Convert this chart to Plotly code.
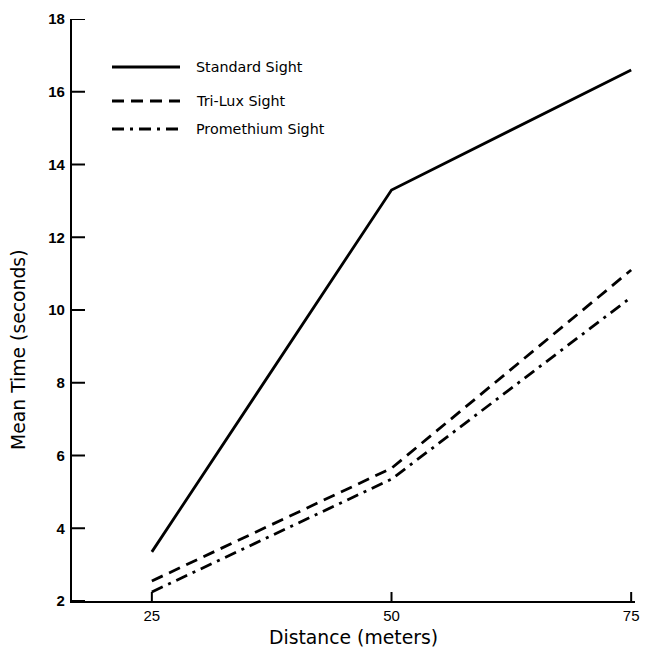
import plotly.graph_objects as go

distance = [25, 50, 75]
standard = [3.35, 13.3, 16.6]
trilux = [2.55, 5.65, 11.1]
promethium = [2.25, 5.35, 10.35]
series_names = ["Standard Sight", "Tri-Lux Sight", "Promethium Sight"]
y_ticks = [2, 4, 6, 8, 10, 12, 14, 16, 18]
x_ticks = [25, 50, 75]

dashes = ["solid", "12px,7px", "12px,6px,3px,6px"]
values = [standard, trilux, promethium]

fig = go.Figure()
for name, vals, d in zip(series_names, values, dashes):
    fig.add_trace(go.Scatter(x=distance, y=vals, mode="lines", name=name,
                             line=dict(color="black", width=2.8, dash=d),
                             showlegend=False))

W, H = 647, 654
ml, mr, mt, mb = 72, 12, 19, 53
pw, ph = W - ml - mr, H - mt - mb

def px(x):
    return (x - ml) / pw

def py(y):
    return 1 - (y - mt) / ph

# legend drawn manually
leg_y = [67, 101, 129]
for name, d, yy in zip(series_names, dashes, leg_y):
    fig.add_shape(type="line", xref="paper", yref="paper",
                  x0=px(112), x1=px(180), y0=py(yy), y1=py(yy),
                  line=dict(color="black", width=2.8, dash=d))
    fig.add_annotation(xref="paper", yref="paper", x=px(194), y=py(yy),
                       text=name, showarrow=False, xanchor="left", yanchor="middle",
                       font=dict(size=14.3, color="black", family="DejaVu Sans"))

# inward tick marks
for v in y_ticks:
    fig.add_shape(type="line", xref="paper", yref="y", x0=0, x1=13 / pw, y0=v, y1=v,
                  line=dict(color="black", width=2))
for v in x_ticks:
    fig.add_shape(type="line", xref="x", yref="paper", x0=v, x1=v, y0=0, y1=9 / ph,
                  line=dict(color="black", width=2))

# axis titles
fig.add_annotation(xref="paper", yref="y", x=px(18), y=8.9, text="Mean Time (seconds)",
                   textangle=-90, showarrow=False, xanchor="center", yanchor="middle",
                   font=dict(size=18.8, color="black", family="DejaVu Sans"))
fig.add_annotation(xref="x", yref="paper", x=46.0, y=py(637), text="Distance (meters)",
                   showarrow=False, xanchor="center", yanchor="middle",
                   font=dict(size=18.8, color="black", family="DejaVu Sans"))

fig.update_layout(
    width=W, height=H,
    margin=dict(l=ml, r=mr, t=mt, b=mb, autoexpand=False),
    paper_bgcolor="white", plot_bgcolor="white",
    font=dict(family="DejaVu Sans", color="black"),
    xaxis=dict(range=[16.67, 75.4], tickvals=x_ticks, ticks="",
               showline=True, linecolor="black",
               linewidth=1.6, showgrid=False, zeroline=False,
               tickfont=dict(size=15, color="black", family="Liberation Sans")),
    yaxis=dict(range=[2, 18], tickvals=y_ticks, ticks="",
               showline=True, linecolor="black",
               linewidth=2.2, showgrid=False, zeroline=False,
               tickfont=dict(size=15, color="black", family="Liberation Sans", weight="bold"),
               ticklabelstandoff=2),
)

fig.write_html("out.html", config={"displayModeBar": False},
               post_script="document.body.style.margin='0px';")
